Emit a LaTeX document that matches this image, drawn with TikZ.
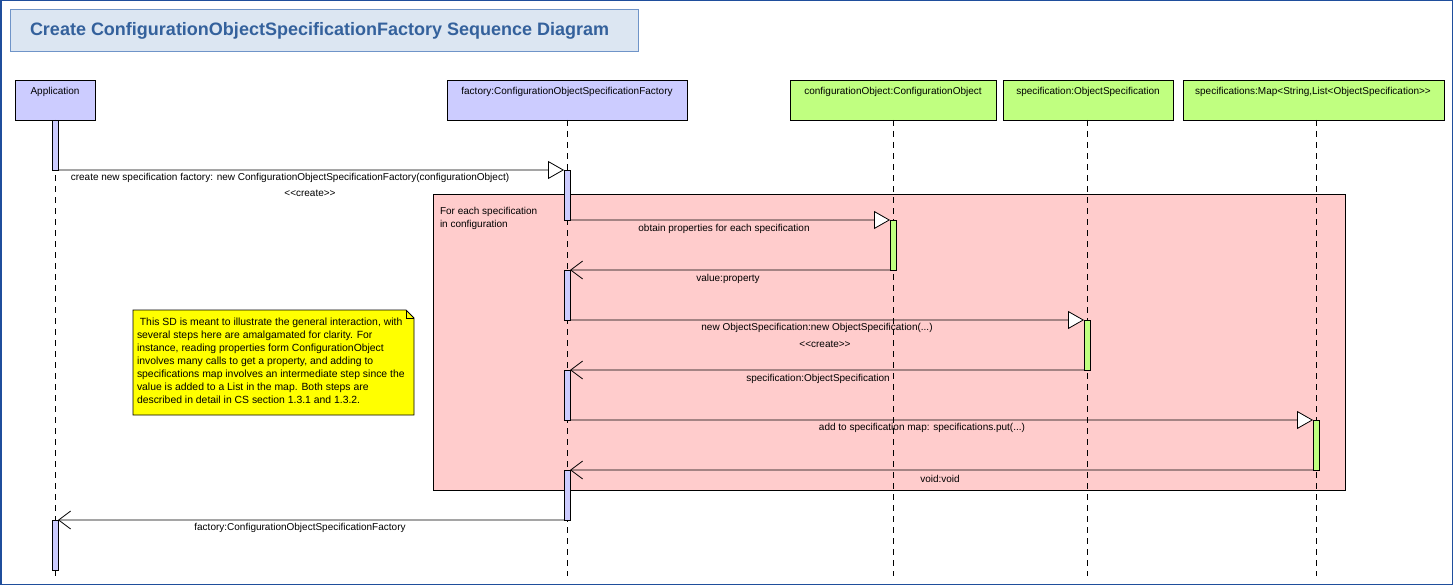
\documentclass[tikz,border=0pt]{standalone}
\usepackage{fontspec}
\setmainfont{Liberation Sans}
\usetikzlibrary{arrows.meta}
\definecolor{lilac}{HTML}{CCCCFF}
\definecolor{lgreen}{HTML}{C0FF80}
\definecolor{pinkfrag}{HTML}{FFCCCC}
\definecolor{notey}{HTML}{FFFF00}
\definecolor{titlefill}{HTML}{DCE6F2}
\definecolor{titleline}{HTML}{6F94C8}
\definecolor{titletext}{HTML}{34619C}
\definecolor{framec}{HTML}{1F4E9C}
\tikzset{
  x=1bp, y=-1bp,
  every node/.style={inner sep=0pt, outer sep=0pt, font=\fontsize{10bp}{12bp}\selectfont},
  head/.style={draw=black, line width=0.8bp, minimum height=40bp, anchor=north west},
  headtxt/.style={anchor=center},
  actbar/.style={draw=black, line width=0.8bp, minimum width=6bp, anchor=north},
  lifeline/.style={draw=black, line width=0.8bp, dash pattern=on 6bp off 5bp},
  callmsg/.style={draw=black, line width=0.8bp, -{Triangle[length=16bp,width=18bp,fill=white,line width=0.8bp]}},
  retmsg/.style={draw=black, line width=0.8bp, -{Straight Barb[length=12bp,width=18bp,line width=0.8bp]}},
  lbl/.style={anchor=center}
}
\begin{document}
\begin{tikzpicture}
\useasboundingbox (0,0) rectangle (1454,586);
% outer frame
\draw[framec, line width=1.5bp] (0.75,0.75) rectangle (1452.5,584.5);
% title
\node[draw=titleline, fill=titlefill, line width=1bp, minimum width=628bp, minimum height=42bp, anchor=north west] (title) at (10,10) {};
\node[font=\bfseries\fontsize{18bp}{20bp}\selectfont, text=titletext, anchor=west] (titletxt) at (30,31) {Create ConfigurationObjectSpecificationFactory Sequence Diagram};

% fragment
\node[draw=black, fill=pinkfrag, line width=0.8bp, minimum width=912bp, minimum height=296bp, anchor=north west] (frag) at (433,194) {};
\node[anchor=north west, align=left, font=\fontsize{10bp}{13bp}\selectfont] (fragtxt) at (440,207) {For each specification\\in configuration};

% note
\fill[notey] (133,310) -- (406,310) -- (414,318) -- (414,415) -- (133,415) -- cycle;
\draw[black, line width=0.8bp] (133,310) -- (406,310) -- (414,318) -- (414,415) -- (133,415) -- cycle;
\draw[black, line width=0.8bp] (406,310) -- (406,318) -- (414,318);
\node[anchor=north west, align=left, font=\fontsize{10.4bp}{13bp}\selectfont] (note) at (137,318) {\ This SD is meant to illustrate the general interaction, with\\several steps here are amalgamated for clarity. For\\instance, reading properties form ConfigurationObject\\involves many calls to get a property, and adding to\\specifications map involves an intermediate step since the\\value is added to a List in the map. Both steps are\\described in detail in CS section 1.3.1 and 1.3.2.};

% heads
\node[head, fill=lilac, minimum width=80bp] (hApp) at (15,80) {};
\node[head, fill=lilac, minimum width=240bp] (hFac) at (447,80) {};
\node[head, fill=lgreen, minimum width=206bp] (hCO) at (790,80) {};
\node[head, fill=lgreen, minimum width=170bp] (hSp) at (1003,80) {};
\node[head, fill=lgreen, minimum width=261bp] (hSs) at (1183,80) {};
\node[headtxt] (tApp) at (55,92) {Application};
\node[headtxt] (tFac) at (567,92) {factory:ConfigurationObjectSpecificationFactory};
\node[headtxt] (tCO) at (893,92) {configurationObject:ConfigurationObject};
\node[headtxt] (tSp) at (1088,92) {specification:ObjectSpecification};
\node[headtxt] (tSs) at (1313,92) {specifications:Map<String,List<ObjectSpecification>{}>};

% lifeline ends
\coordinate (eApp) at (55,576);
\coordinate (eFac) at (567,576);
\coordinate (eCO) at (893,576);
\coordinate (eSp) at (1087,576);
\coordinate (eSs) at (1316,576);
\draw[lifeline] (hApp.south -| eApp) -- (eApp);
\draw[lifeline] (hFac.south -| eFac) -- (eFac);
\draw[lifeline] (hCO.south -| eCO) -- (eCO);
\draw[lifeline] (hSp.south -| eSp) -- (eSp);
\draw[lifeline] (hSs.south -| eSs) -- (eSs);

% activations
\node[actbar, fill=lilac, minimum height=50bp] (app1) at (55,120) {};
\node[actbar, fill=lilac, minimum height=50bp] (app2) at (55,520) {};
\node[actbar, fill=lilac, minimum height=50bp] (fac1) at (567,170) {};
\node[actbar, fill=lilac, minimum height=50bp] (fac2) at (567,270) {};
\node[actbar, fill=lilac, minimum height=50bp] (fac3) at (567,370) {};
\node[actbar, fill=lilac, minimum height=50bp] (fac4) at (567,470) {};
\node[actbar, fill=lgreen, minimum height=50bp] (co1) at (893,220) {};
\node[actbar, fill=lgreen, minimum height=50bp] (sp1) at (1087,320) {};
\node[actbar, fill=lgreen, minimum height=50bp] (ss1) at (1316,420) {};

% messages
\draw[callmsg] (app1.south east) -- (fac1.north west);
\node[lbl] (m1) at (290,178) {create new specification factory: new ConfigurationObjectSpecificationFactory(configurationObject)};
\node[lbl] (m1s) at (310,193) {<{}<create>{}>};
\draw[callmsg] (fac1.south east) -- (co1.north west);
\node[lbl] (m2) at (724,229) {obtain properties for each specification};
\draw[retmsg] (co1.south west) -- (fac2.north east);
\node[lbl] (m3) at (728,279) {value:property};
\draw[callmsg] (fac2.south east) -- (sp1.north west);
\node[lbl] (m4) at (817,328) {new ObjectSpecification:new ObjectSpecification(...)};
\node[lbl] (m4s) at (825,344) {<{}<create>{}>};
\draw[retmsg] (sp1.south west) -- (fac3.north east);
\node[lbl] (m5) at (818,379) {specification:ObjectSpecification};
\draw[callmsg] (fac3.south east) -- (ss1.north west);
\node[lbl] (m6) at (922,428) {add to specification map: specifications.put(...)};
\draw[retmsg] (ss1.south west) -- (fac4.north east);
\node[lbl] (m7) at (940,479) {void:void};
\draw[retmsg] (fac4.south west) -- (app2.north east);
\node[lbl] (m8) at (300,528) {factory:ConfigurationObjectSpecificationFactory};
\end{tikzpicture}
\end{document}
